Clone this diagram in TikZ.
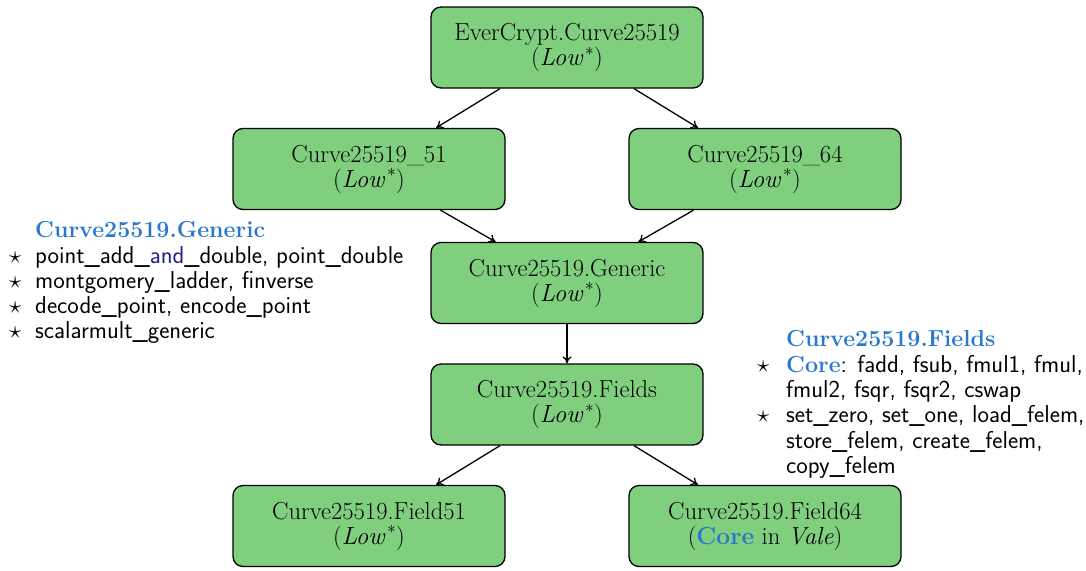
\documentclass[tikz,border=0pt]{standalone}
\usetikzlibrary{arrows.meta}
\definecolor{boxgreen}{RGB}{127,207,127}
\definecolor{hdrblue}{RGB}{40,120,205}
\definecolor{kwblue}{RGB}{30,30,140}
\newcommand{\nodefont}{\fontsize{24.6}{25}\selectfont}
\newcommand{\listfont}{\fontsize{24.4}{25}\selectfont}
\newcommand{\hdrfont}{\fontsize{23.2}{25}\selectfont}
\newcommand{\hdr}[1]{\textcolor{hdrblue}{\bfseries #1}}
\tikzset{
  mod/.style={draw=black, line width=1.3pt, fill=boxgreen, rounded corners=10pt,
    minimum width=272pt, minimum height=81pt, align=center, font=\nodefont, inner sep=0pt},
  conn/.style={-{To[length=7pt,width=9pt]}, line width=1.3pt},
  listline/.style={anchor=base west, inner sep=0pt, font=\listfont\sffamily},
  listhdr/.style={anchor=base west, inner sep=0pt, font=\hdrfont},
  bullet/.style={anchor=base west, inner sep=0pt, font=\nodefont}
}
\begin{document}
\begin{tikzpicture}[x=1pt,y=-1pt]
\useasboundingbox (0,0) rectangle (1086,570);
\node[mod] (top) at (567,47.5) {EverCrypt.Curve25519\\($\mathit{Low}^{*}$)};
\node[mod] (c51) at (369,169) {Curve25519\_51\\($\mathit{Low}^{*}$)};
\node[mod] (c64) at (765,169) {Curve25519\_64\\($\mathit{Low}^{*}$)};
\node[mod] (gen) at (567,283) {Curve25519.Generic\\($\mathit{Low}^{*}$)};
\node[mod] (fld) at (567,404.5) {Curve25519.Fields\\($\mathit{Low}^{*}$)};
\node[mod] (f51) at (369,526) {Curve25519.Field51\\($\mathit{Low}^{*}$)};
\node[mod] (f64) at (765,526) {Curve25519.Field64\\(\hdr{Core} in \textit{Vale})};
\draw[conn] (top) -- (c51);
\draw[conn] (top) -- (c64);
\draw[conn] (c51) -- (gen);
\draw[conn] (c64) -- (gen);
\draw[conn] (gen) -- (fld);
\draw[conn] (fld) -- (f51);
\draw[conn] (fld) -- (f64);
% Generic list
\node[listhdr] (gh) at (35,237) {\hdr{Curve25519.Generic}};
\node[bullet] (gb1) at (9,263) {$\star$};
\node[listline] (g1) at (35,263) {point\_add\_\textcolor{kwblue}{and}\_double, point\_double};
\node[bullet] (gb2) at (9,288) {$\star$};
\node[listline] (g2) at (35,288) {montgomery\_ladder, finverse};
\node[bullet] (gb3) at (9,313) {$\star$};
\node[listline] (g3) at (35,313) {decode\_point, encode\_point};
\node[bullet] (gb4) at (9,338) {$\star$};
\node[listline] (g4) at (35,338) {scalarmult\_generic};
% Fields list
\node[listhdr] (fh) at (786,346) {\hdr{Curve25519.Fields}};
\node[bullet] (fb1) at (757,372) {$\star$};
\node[listline] (f1) at (786,372) {{\hdrfont\rmfamily\hdr{Core}}: fadd, fsub, fmul1, fmul,};
\node[listline] (f1b) at (786,397) {fmul2, fsqr, fsqr2, cswap};
\node[bullet] (fb2) at (757,422) {$\star$};
\node[listline] (f2) at (786,422) {set\_zero, set\_one, load\_felem,};
\node[listline] (f2b) at (786,448) {store\_felem, create\_felem,};
\node[listline] (f2c) at (786,473) {copy\_felem};
\end{tikzpicture}
\end{document}
